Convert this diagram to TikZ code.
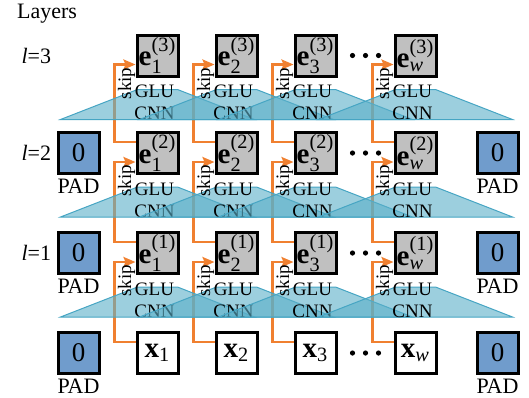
\documentclass[tikz,border=0pt]{standalone}
\usepackage{fontspec}
\setmainfont{Liberation Serif}
\usepackage{amsmath}
\usetikzlibrary{positioning,calc,arrows.meta}

\definecolor{boxgray}{RGB}{192,192,192}
\definecolor{padblue}{RGB}{112,156,204}
\definecolor{skiporange}{RGB}{240,128,48}
\definecolor{cnnfill}{RGB}{90,175,200}
\definecolor{cnnedge}{RGB}{70,165,195}

\tikzset{
  cell/.style={draw=black, line width=1.5pt, minimum size=20.5pt, inner sep=0pt},
  ecell/.style={cell, fill=boxgray, font=\fontsize{14.5}{16}\selectfont},
  xcell/.style={cell, fill=white, font=\fontsize{14.5}{16}\selectfont},
  padcell/.style={cell, fill=padblue, font=\fontsize{13.5}{15}\selectfont},
  lbl/.style={font=\fontsize{11}{13}\selectfont},
  small/.style={font=\fontsize{9.5}{11}\selectfont},
  skiparrow/.style={skiporange, line width=1.2pt, -{Stealth[length=6pt,width=5pt,inset=1pt]}},
  cnnblock/.style={fill=cnnfill, fill opacity=0.6, draw=cnnedge, line width=0.5pt},
}

\begin{document}
\begin{tikzpicture}[x=0.5pt, y=-0.5pt]
  \useasboundingbox (0,0) rectangle (529,397);

  % Titre
  \node[lbl, anchor=west] (layers) at (10,14) {Layers};

  % Cellules x et e
  \foreach \c/\xc/\sub in {1/157.5/1, 2/236.5/2, 3/315.5/3, w/415.5/{\textit{w}}} {
    \node[xcell] (n\c-0) at (\xc,353) {$\textbf{x}_{\text{\sub}}$};
    \foreach \r/\yr in {1/253, 2/153, 3/55.5}
      \node[ecell] (n\c-\r) at (\xc,\yr) {$\textbf{e}^{\text{(\r)}}_{\text{\sub}}$};
  }

  % Cellules de remplissage
  \foreach \r/\yr in {0/353, 1/253, 2/153} {
    \node[padcell] (padL-\r) at (78.5,\yr) {0};
    \node[padcell] (padR-\r) at (497.5,\yr) {0};
    \node[lbl, below=-1.5pt of padL-\r] (padLt-\r) {PAD};
    \node[lbl, below=-1.5pt of padR-\r] (padRt-\r) {PAD};
  }

  % Indices de couche
  \node[lbl, inner sep=1pt, left=1.5pt of padL-1] (l1) {\textit{l}=1};
  \node[lbl, inner sep=1pt, left=1.5pt of padL-2] (l2) {\textit{l}=2};
  \node[lbl, inner sep=1pt, anchor=east, xshift=-1.5pt] (l3) at (padL-2.west |- n1-3) {\textit{l}=3};

  % Points de suspension
  \foreach \r in {0,1,2,3}
    \foreach \d in {-6.5,0,6.5}
      \fill ([xshift=\d pt]$(n3-\r.east)!0.5!(nw-\r.west)$) circle (1.3pt);

  % Connexions skip
  \foreach \c in {1,2,3,w}
    \foreach \r in {1,2,3} {
      \pgfmathtruncatemacro{\lo}{\r-1}
      \draw[skiparrow] ([yshift=5.5pt]n\c-\lo.west) -- ++(-10.5pt,0) |- ([yshift=-4.5pt]n\c-\r.west);
    }

  % Blocs CNN / GLU
  \foreach \r in {1,2,3}
    \foreach \c in {1,2,3,w} {
      \draw[cnnblock] ([xshift=-37.5pt,yshift=-21pt]n\c-\r.south west)
        -- ([xshift=1pt,yshift=-6pt]n\c-\r.south west)
        -- ([xshift=-1pt,yshift=-6pt]n\c-\r.south east)
        -- ([xshift=37.5pt,yshift=-21pt]n\c-\r.south east) -- cycle;
      \node[small] (glu\c-\r) at ([xshift=-1.5pt,yshift=-7pt]n\c-\r.south) {GLU};
      \node[small] (cnn\c-\r) at ([xshift=-1.5pt,yshift=-18pt]n\c-\r.south) {CNN};
    }

  % Etiquettes skip
  \foreach \c in {1,2,3,w}
    \foreach \r in {1,2,3}
      \node[small, rotate=90] (skip\c-\r) at ([xshift=-4.5pt,yshift=-14pt]n\c-\r.west) {skip};
\end{tikzpicture}
\end{document}
